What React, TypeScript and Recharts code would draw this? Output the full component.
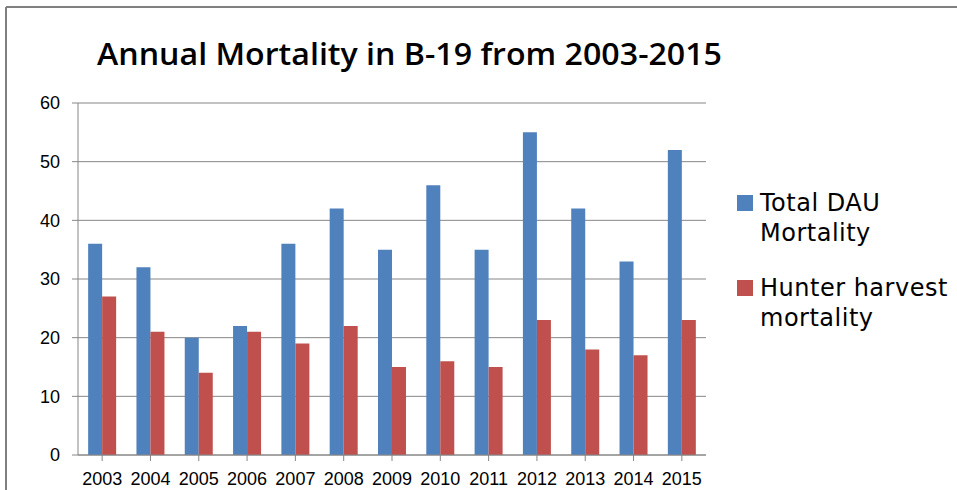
import { BarChart, Bar, XAxis, YAxis, CartesianGrid } from "recharts";

const years = ["2003", "2004", "2005", "2006", "2007", "2008", "2009", "2010", "2011", "2012", "2013", "2014", "2015"];
const totalDau = [36, 32, 20, 22, 36, 42, 35, 46, 35, 55, 42, 33, 52];
const hunterHarvest = [27, 21, 14, 21, 19, 22, 15, 16, 15, 23, 18, 17, 23];
const yTicks = [0, 10, 20, 30, 40, 50, 60];

const data = years.map((y, i) => ({
  year: y,
  total: totalDau[i],
  hunter: hunterHarvest[i],
}));

const legendItems = [
  { color: "#4F81BD", lines: ["Total DAU", "Mortality"] },
  { color: "#C0504D", lines: ["Hunter harvest", "mortality"] },
];

function LegendBox() {
  return (
    <div
      style={{
        position: "absolute",
        left: 737,
        top: 188,
        fontFamily: "DejaVu Sans",
        fontSize: 24,
        letterSpacing: 0.5,
        color: "#000",
      }}
    >
      {legendItems.map((item, i) => (
        <div key={i} style={{ display: "flex", marginBottom: i === 0 ? 25 : 0 }}>
          <div
            style={{
              width: 16,
              height: 16,
              background: item.color,
              marginTop: 7,
              marginRight: 7,
            }}
          />
          <div style={{ lineHeight: "30px", whiteSpace: "nowrap" }}>
            {item.lines.map((l) => (
              <div key={l}>{l}</div>
            ))}
          </div>
        </div>
      ))}
    </div>
  );
}

export default function App() {
  const axisGray = "#868686";
  return (
    <div style={{ position: "absolute", left: 0, top: 0, width: 957, height: 490, background: "#fff", overflow: "hidden" }}>
      <svg width={957} height={490} style={{ position: "absolute", left: 0, top: 0 }}>
        <line x1={6} y1={7} x2={957} y2={7} stroke="#808080" strokeWidth={2} />
        <line x1={6} y1={7} x2={6} y2={490} stroke="#808080" strokeWidth={2} />
        <text
          x={97}
          y={65}
          fontFamily="Open Sans"
          fontWeight={600}
          fontSize={30}
          textLength={625}
          lengthAdjust="spacingAndGlyphs"
          fill="#000"
        >
          Annual Mortality in B-19 from 2003-2015
        </text>
      </svg>
      <div style={{ position: "absolute", left: 0, top: 0 }}>
        <BarChart
          width={957}
          height={490}
          data={data}
          margin={{ top: 103, right: 251, bottom: 5, left: 38 }}
          barCategoryGap="21%"
          barGap={0}
        >
          <CartesianGrid vertical={false} stroke={axisGray} strokeWidth={1} />
          <XAxis
            dataKey="year"
            interval={0}
            height={30}
            stroke={axisGray}
            tickSize={6}
            tickMargin={11}
            tick={{ fill: "#000", fontFamily: "Liberation Sans", fontSize: 18 }}
          />
          <YAxis
            width={40}
            domain={[0, 60]}
            ticks={yTicks}
            stroke={axisGray}
            tickSize={6}
            tickMargin={12}
            tick={{ fill: "#000", fontFamily: "Liberation Sans", fontSize: 18 }}
          />
          <Bar dataKey="total" fill="#4F81BD" isAnimationActive={false} />
          <Bar dataKey="hunter" fill="#C0504D" isAnimationActive={false} />
        </BarChart>
      </div>
      <LegendBox />
    </div>
  );
}
